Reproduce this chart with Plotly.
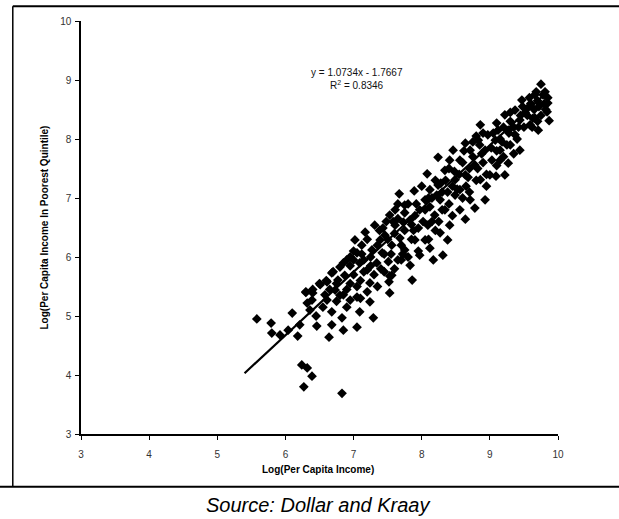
import plotly.graph_objects as go

# Scatter data: (log per capita income, log per capita income of poorest quintile)
x_vals = [
    5.58, 5.79, 5.80, 5.92, 6.04, 6.10, 6.18, 6.21,
    6.24, 6.32, 6.39, 6.27, 6.83,
    6.32, 6.30, 6.40, 6.46, 6.68, 6.64, 6.83, 6.85, 6.61, 6.68, 6.80, 6.90, 6.85, 6.95, 6.61, 6.36, 6.68,
    6.51, 6.73, 6.77, 6.87, 6.39, 6.58,
    7.05, 7.05, 7.20, 7.24, 7.20, 7.34, 7.42, 7.09, 7.05, 7.29, 7.24, 7.09, 7.02, 7.17, 7.31, 7.39, 7.12,
    7.27, 7.46, 7.52, 7.56, 7.51, 7.53, 7.53,
    7.67, 7.89, 7.61, 7.75, 7.83, 7.61, 7.68, 7.75, 7.90, 7.95, 7.65, 7.83, 7.97, 7.86, 7.56, 7.73, 7.97,
    7.53, 7.43,
    8.08, 8.12, 8.05, 8.24, 8.34, 8.41, 8.27, 8.19, 8.09, 8.34, 8.41, 8.27, 8.17, 8.31, 8.05, 8.12, 8.49,
    8.49, 8.38, 8.24, 8.46,
    8.64, 8.86, 8.71, 8.56, 8.78, 8.93, 8.64, 8.86, 8.56, 8.71, 8.93, 8.64, 8.78, 9.00, 8.83, 8.97, 8.56,
    9.10, 9.22, 9.37, 9.44, 9.27, 9.08, 9.15, 9.30, 9.09, 9.27, 9.44, 9.37, 9.15, 9.03, 9.22, 9.47,
    9.75, 9.66, 9.56, 9.74, 9.85, 9.84, 9.87, 9.66, 9.59, 9.81, 9.71,
    6.95, 7.00, 7.10, 7.15, 7.25, 7.30, 7.35, 7.40, 7.45, 6.90, 7.00, 7.20, 7.38, 7.48, 7.10, 6.75, 6.90,
    7.55, 7.60, 7.65, 7.70, 7.75, 7.80, 7.85, 7.90, 7.95, 7.60, 7.70, 7.80, 7.65, 7.85, 7.75,
    8.05, 8.10, 8.15, 8.20, 8.25, 8.30, 8.35, 8.40, 8.45, 8.10, 8.20, 8.30, 8.40, 8.00, 8.15, 8.45,
    8.55, 8.60, 8.65, 8.70, 8.75, 8.80, 8.85, 8.90, 8.95, 8.60, 8.70, 8.80, 8.90, 8.75, 8.95,
    9.05, 9.10, 9.15, 9.20, 9.25, 9.30, 9.35, 9.40, 9.45, 9.50, 9.20, 9.35, 9.48, 9.10, 9.30,
    9.55, 9.60, 9.65, 9.70, 9.75, 9.80, 9.70, 9.62, 9.78, 9.58,
    6.30, 6.40, 6.50, 6.60, 6.70, 6.85, 6.95,
    6.45, 6.55, 6.65, 6.75, 6.80, 6.95, 7.05, 7.15, 7.25, 7.35, 7.45, 7.50, 7.58, 7.72, 7.88, 7.92,
    8.02, 8.12, 8.22, 8.28, 8.38, 8.48, 8.52, 8.62, 8.68, 8.82, 8.88, 9.02, 9.12, 9.18, 9.28, 9.42,
    9.52, 9.63, 9.68, 9.82, 9.85, 9.72, 7.00, 7.12,
]
y_vals = [
    4.95, 4.88, 4.71, 4.68, 4.76, 5.05, 4.66, 4.85,
    4.17, 4.12, 3.98, 3.80, 3.69,
    5.22, 5.41, 5.39, 4.83, 4.85, 4.64, 4.97, 4.76, 5.58, 5.73, 5.83, 5.95, 5.36, 5.27, 5.27, 5.10, 5.07,
    5.53, 5.44, 5.61, 5.69, 5.27, 5.36,
    6.07, 5.32, 5.41, 5.56, 5.78, 5.90, 6.07, 5.90, 4.81, 4.97, 5.24, 5.07, 6.29, 6.42, 6.54, 6.29, 6.20,
    6.12, 6.37, 5.58, 5.69, 5.92, 5.39, 5.68,
    7.07, 7.12, 6.80, 6.88, 6.63, 6.54, 6.32, 6.12, 6.29, 6.49, 5.95, 5.86, 6.03, 5.61, 6.20, 6.59, 6.80,
    6.71, 6.49,
    7.41, 7.14, 6.97, 7.22, 7.47, 7.64, 6.97, 6.71, 6.54, 6.80, 6.54, 6.41, 5.95, 6.03, 6.29, 6.15, 7.05,
    7.31, 6.29, 7.69, 7.81,
    7.93, 8.24, 7.81, 7.64, 7.56, 7.81, 7.39, 7.31, 7.14, 6.97, 6.97, 6.64, 6.83, 7.39, 7.98, 8.07, 6.80,
    8.27, 8.41, 8.49, 8.32, 8.15, 7.98, 7.81, 7.90, 7.37, 7.59, 7.81, 8.07, 7.64, 7.64, 7.39, 8.66,
    8.93, 8.75, 8.53, 8.58, 8.61, 8.46, 8.31, 8.36, 8.24, 8.80, 8.15,
    5.55, 5.70, 5.60, 5.95, 6.00, 5.70, 6.20, 5.80, 6.05, 5.45, 6.10, 6.30, 6.45, 6.60, 5.30, 5.25, 5.15,
    6.05, 6.40, 6.65, 6.20, 6.45, 6.90, 6.30, 6.70, 6.10, 5.80, 5.95, 6.00, 6.90, 6.55, 6.75,
    6.80, 7.00, 6.60, 7.30, 6.60, 7.10, 7.30, 6.90, 7.20, 6.30, 6.45, 6.80, 7.50, 7.20, 7.00, 6.70,
    7.40, 7.60, 7.20, 7.50, 7.70, 7.30, 7.90, 7.60, 7.40, 7.00, 7.10, 8.05, 8.10, 7.95, 7.20,
    8.10, 7.80, 8.00, 8.20, 7.90, 8.30, 8.20, 8.00, 8.40, 8.20, 7.70, 7.75, 8.55, 7.55, 8.45,
    8.40, 8.60, 8.50, 8.65, 8.40, 8.60, 8.30, 8.20, 8.75, 8.70,
    5.40, 5.45, 5.55, 5.60, 5.75, 5.90, 6.00,
    5.00, 5.15, 5.45, 5.55, 5.35, 5.85, 5.50, 5.75, 5.85, 5.50, 5.75, 6.30, 6.60, 6.05, 6.45, 6.90,
    6.60, 6.85, 7.05, 7.25, 7.10, 7.45, 7.15, 7.80, 7.35, 7.50, 7.75, 7.85, 8.15, 7.95, 8.10, 8.20,
    8.45, 8.35, 8.80, 8.50, 8.70, 8.55, 5.95, 6.05,
]

# Trendline (as reported on the chart)
slope = 1.0734
intercept = -1.7667
trend_x = [5.4, 9.85]
trend_y = [slope * v + intercept for v in trend_x]

x_ticks = [3, 4, 5, 6, 7, 8, 9, 10]
y_ticks = [3, 4, 5, 6, 7, 8, 9, 10]

font_family = "Liberation Sans, Arial, sans-serif"

fig = go.Figure()
fig.add_trace(go.Scatter(
    x=x_vals, y=y_vals, mode="markers",
    marker=dict(symbol="diamond", size=7.5, color="black", line=dict(width=0)),
    showlegend=False, hoverinfo="skip",
))
fig.add_trace(go.Scatter(
    x=trend_x, y=trend_y, mode="lines",
    line=dict(color="black", width=2.2),
    showlegend=False, hoverinfo="skip",
))

axis_common = dict(
    showgrid=False, zeroline=False, showline=True, linecolor="black", linewidth=1.5,
    ticks="outside", ticklen=4, tickcolor="black", tickwidth=1,
    tickfont=dict(family=font_family, size=10, color="#333333"),
)
fig.update_xaxes(range=[3, 10], tickvals=x_ticks, ticklabelstandoff=6, **axis_common)
fig.update_yaxes(range=[3, 10], tickvals=y_ticks, ticklabelstandoff=2, **axis_common)

fig.update_layout(
    width=619, height=519,
    margin=dict(l=81, r=61, t=21, b=85),
    paper_bgcolor="white", plot_bgcolor="white",
    font=dict(family=font_family, color="black"),
    annotations=[
        dict(text="y = 1.0734x - 1.7667", xref="paper", yref="paper",
             x=0.579, y=0.876, xanchor="center", yanchor="middle",
             showarrow=False, font=dict(size=10, color="#111111")),
        dict(text="R<sup>2</sup> = 0.8346", xref="paper", yref="paper",
             x=0.579, y=0.846, xanchor="center", yanchor="middle",
             showarrow=False, font=dict(size=10, color="#111111")),
        dict(text="<b>Log(Per Capita Income)</b>", xref="paper", yref="paper",
             x=0.497, y=-0.085, xanchor="center", yanchor="middle",
             showarrow=False, font=dict(size=10)),
        dict(text="<b>Log(Per Capita Income In Poorest Quintile)</b>", xref="paper", yref="paper",
             x=-0.0755, y=0.5, xanchor="center", yanchor="middle", textangle=-90,
             showarrow=False, font=dict(size=10)),
        dict(text="<i>Source: Dollar and Kraay</i>", xref="paper", yref="paper",
             x=0.497, y=-0.172, xanchor="center", yanchor="middle",
             showarrow=False, font=dict(size=20)),
    ],
    shapes=[
        # outer frame lines of the scanned figure
        dict(type="line", xref="paper", yref="paper", x0=-0.143, x1=1.13, y0=1.036, y1=1.036,
             line=dict(color="black", width=2)),
        dict(type="line", xref="paper", yref="paper", x0=-0.143, x1=-0.143, y0=1.036, y1=-0.128,
             line=dict(color="black", width=1.5)),
        dict(type="line", xref="paper", yref="paper", x0=-0.17, x1=1.13, y0=-0.128, y1=-0.128,
             line=dict(color="black", width=2)),
    ],
)

fig.write_html("out.html")
